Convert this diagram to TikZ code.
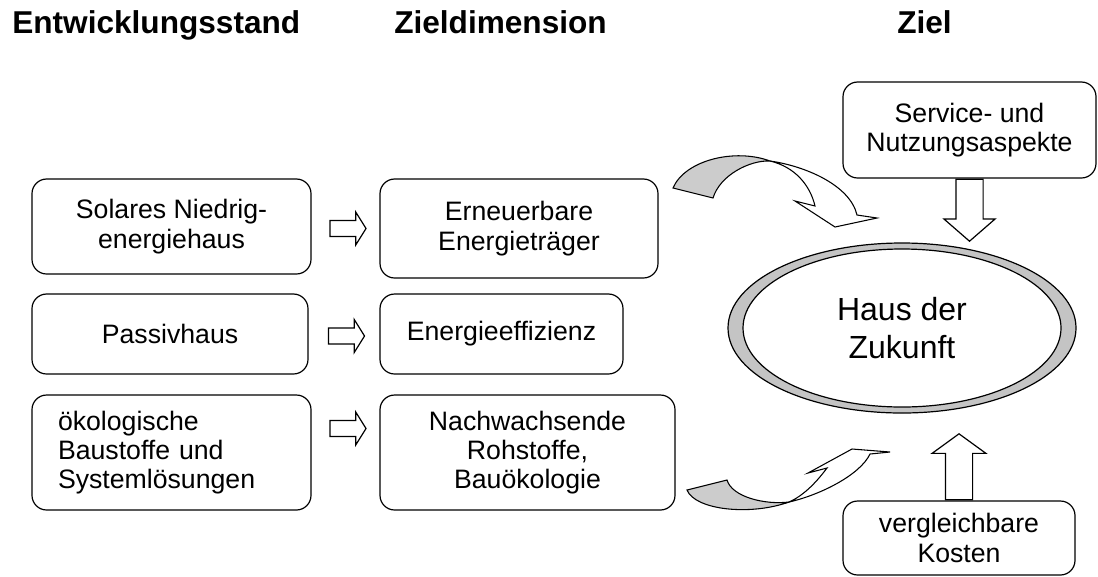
\documentclass[tikz,border=0pt]{standalone}
\usepackage{fontspec}
\setmainfont{Liberation Sans}
\usetikzlibrary{shapes.geometric,shapes.arrows,calc,positioning}
\definecolor{RibbonGray}{RGB}{204,204,204}
\definecolor{RingGray}{RGB}{196,196,196}

\begin{document}
\begin{tikzpicture}[x=0.75pt,y=-0.75pt,
    box/.style={draw,rounded corners=11pt,line width=0.9pt,align=center,inner sep=0pt,
      font=\fontsize{20}{22}\selectfont},
    colhead/.style={font=\fontsize{23.7}{28}\selectfont\bfseries,anchor=base west,inner sep=0pt},
    blockarrow/.style={single arrow,draw,fill=white,line width=0.9pt,minimum width=0pt},
    ribbon/.style={draw,line width=0.8pt,line join=miter}]
  \useasboundingbox (0,0) rectangle (1098,576);
  % Spaltenkoepfe
  \node[colhead] (hstand) at (12,33) {Entwicklungsstand};
  \node[colhead] (hdim) at (394,33) {Zieldimension};
  \node[colhead] (hziel) at (897,33) {Ziel};
  % linke Spalte
  \node[box,minimum width=209.25pt,minimum height=71.25pt] (solar) at (171.5,226.5)
    {Solares Niedrig-\\energiehaus};
  \node[box,minimum width=207pt,minimum height=60pt] (passiv) at (170,334) {Passivhaus};
  \node[box,align=left,text width=170.25pt,inner xsep=19.5pt,minimum height=86.25pt] (oeko) at (171.5,452.5)
    {ökologische\\Baustoffe und\\Systemlösungen};
  % mittlere Spalte
  \node[box,minimum width=208.5pt,minimum height=74.25pt] (erneuer) at (519,228.5)
    {Erneuerbare\\Energieträger};
  \node[box,minimum width=182.25pt,minimum height=60pt] (effiz) at (501.5,334) {Energieeffizienz};
  \node[box,minimum width=221.25pt,minimum height=86.25pt] (nachw) at (527.5,452.5)
    {Nachwachsende\\Rohstoffe,\\Bauökologie};
  % rechte Spalte
  \node[box,minimum width=189.75pt,minimum height=72pt] (service) at (969.5,130)
    {Service- und\\Nutzungsaspekte};
  \node[box,minimum width=174pt,minimum height=55.5pt] (kosten) at (959,538)
    {vergleichbare\\Kosten};
  \node[ellipse,draw,fill=RingGray,line width=0.9pt,inner sep=0pt,
    minimum width=261pt,minimum height=127.5pt] (haus) at (902,328) {};
  \node[ellipse,draw,fill=white,line width=0.9pt,inner sep=0pt,align=center,
    minimum width=238.5pt,minimum height=118.5pt,font=\fontsize{24}{28}\selectfont] (hauskern) at (haus.center)
    {Haus der\\Zukunft};
  % Blockpfeile
  \node[blockarrow,inner sep=5.6pt,minimum height=27pt,single arrow head extend=6.4pt,single arrow tip angle=116]
    (p1) at ($(solar.east)!0.5!(erneuer.west)+(0,1)$) {};
  \node[blockarrow,inner sep=5.6pt,minimum height=27pt,single arrow head extend=6.4pt,single arrow tip angle=116]
    (p2) at ($(passiv.east)!0.5!(effiz.west)+(0,2)$) {};
  \node[blockarrow,inner sep=5.6pt,minimum height=27pt,single arrow head extend=6.4pt,single arrow tip angle=116]
    (p3) at ($(oeko.east)!0.5!(nachw.west)+(0,-24)$) {};
  \node[blockarrow,inner sep=9.75pt,minimum height=46.5pt,single arrow head extend=9pt,single arrow tip angle=98,
    shape border rotate=270,anchor=tail] (pdown) at (service.south) {};
  \node[blockarrow,inner sep=9.75pt,minimum height=49.5pt,single arrow head extend=10pt,single arrow tip angle=108,
    shape border rotate=90,anchor=tail] (pup) at (kosten.north) {};
  % gebogene Pfeile
  \filldraw[ribbon,fill=RibbonGray] (673,188) .. controls (685,160) and (735,148) .. (770,161)
    .. controls (750,160) and (720,175) .. (713,198) -- cycle;
  \filldraw[ribbon,fill=white] (770,161) .. controls (805,166) and (850,185) .. (857,215)
    -- (877,218) -- (835,227) -- (795,201) -- (815,206)
    .. controls (810,185) and (795,167) .. (770,161) -- cycle;
  \filldraw[ribbon,fill=RibbonGray] (687,490) .. controls (695,510) and (750,516) .. (789,502)
    .. controls (765,505) and (732,497) .. (727,480) -- cycle;
  \filldraw[ribbon,fill=white] (789,502) .. controls (820,495) and (860,475) .. (870,454)
    -- (890,452) -- (852,449) -- (808,473) -- (827,468)
    .. controls (818,480) and (805,495) .. (789,502) -- cycle;
\end{tikzpicture}
\end{document}
